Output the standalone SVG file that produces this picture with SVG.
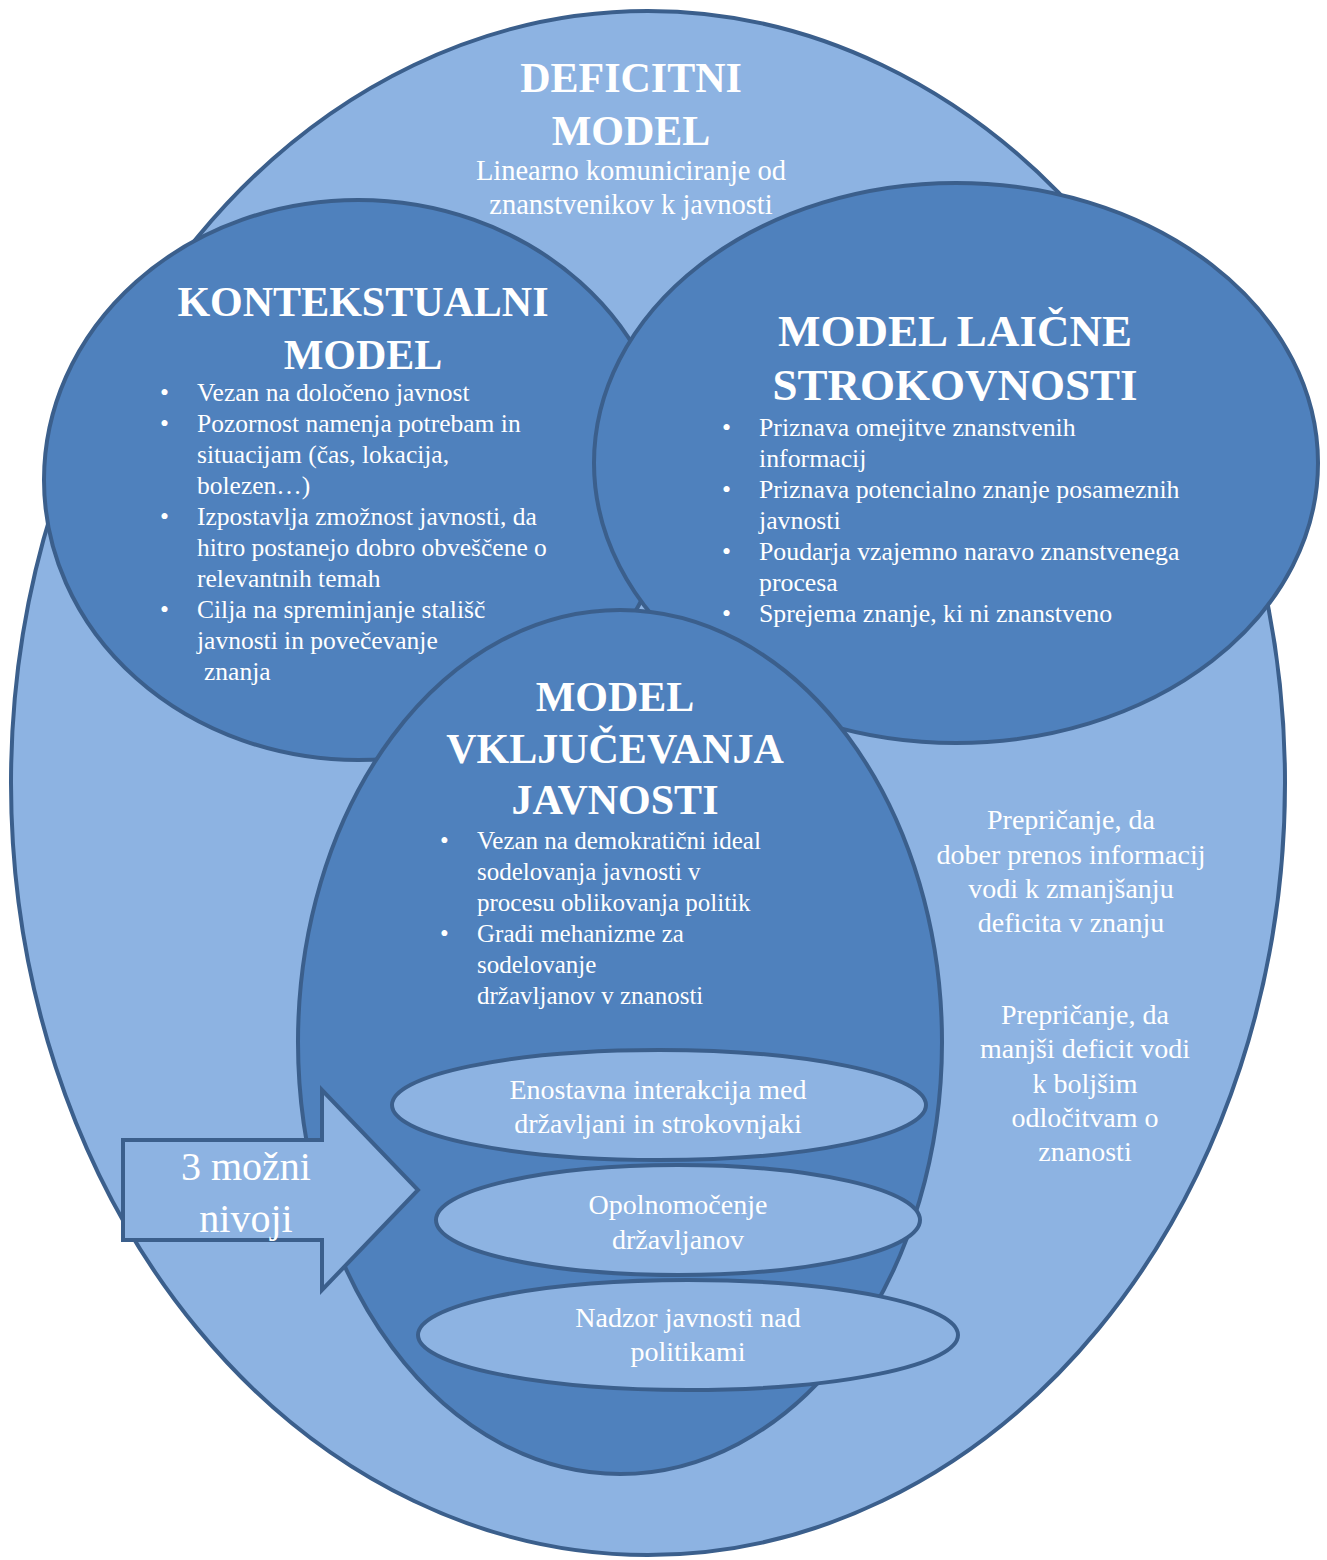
<svg xmlns="http://www.w3.org/2000/svg" width="1327" height="1560" viewBox="0 0 1327 1560">
<style>
.light{fill:#8DB3E2;stroke:#3B5F8C;stroke-width:4}
.mid{fill:#4F81BD;stroke:#3B5F8C;stroke-width:4}
text{font-family:"Liberation Serif","Times New Roman",serif;fill:#FFFFFF}
.t{font-size:42px;font-weight:bold;text-anchor:middle}
.b{font-size:25px}
.c{font-size:28px;text-anchor:middle}
.a{font-size:40px;text-anchor:middle}
</style>
<rect width="1327" height="1560" fill="#FFFFFF"/>
<g id="deficitni">
<ellipse class="light" cx="648" cy="783" rx="637" ry="772"/>
<text class="t" x="631" y="92">DEFICITNI</text>
<text class="t" x="631" y="145">MODEL</text>
<text class="c" x="631" y="180" style="font-size:28.5px">Linearno komuniciranje od</text>
<text class="c" x="631" y="214" style="font-size:28.5px">znanstvenikov k javnosti</text>
<text class="c" x="1071" y="829">Prepričanje, da</text>
<text class="c" x="1071" y="864">dober prenos informacij</text>
<text class="c" x="1071" y="898">vodi k zmanjšanju</text>
<text class="c" x="1071" y="932">deficita v znanju</text>
<text class="c" x="1085" y="1024">Prepričanje, da</text>
<text class="c" x="1085" y="1058">manjši deficit vodi</text>
<text class="c" x="1085" y="1093">k boljšim</text>
<text class="c" x="1085" y="1127">odločitvam o</text>
<text class="c" x="1085" y="1161">znanosti</text>
</g>
<g id="kontekstualni">
<ellipse class="mid" cx="358" cy="480" rx="314" ry="280"/>
<text class="t" x="363" y="316">KONTEKSTUALNI</text>
<text class="t" x="363" y="369">MODEL</text>
<g class="b" style="font-size:25.5px">
<text x="160" y="401">•</text><text x="197" y="401">Vezan na določeno javnost</text>
<text x="160" y="432">•</text><text x="197" y="432">Pozornost namenja potrebam in</text>
<text x="197" y="463">situacijam (čas, lokacija,</text>
<text x="197" y="494">bolezen…)</text>
<text x="160" y="525">•</text><text x="197" y="525">Izpostavlja zmožnost javnosti, da</text>
<text x="197" y="556">hitro postanejo dobro obveščene o</text>
<text x="197" y="587">relevantnih temah</text>
<text x="160" y="618">•</text><text x="197" y="618">Cilja na spreminjanje stališč</text>
<text x="197" y="649">javnosti in povečevanje</text>
<text x="204" y="680">znanja</text>
</g>
</g>
<g id="laicne">
<ellipse class="mid" cx="956" cy="463" rx="362" ry="280"/>
<text class="t" x="955" y="346" style="font-size:45px">MODEL LAIČNE</text>
<text class="t" x="955" y="400" style="font-size:45px">STROKOVNOSTI</text>
<g class="b" style="font-size:25.8px">
<text x="722" y="436">•</text><text x="759" y="436">Priznava omejitve znanstvenih</text>
<text x="759" y="467">informacij</text>
<text x="722" y="498">•</text><text x="759" y="498">Priznava potencialno znanje posameznih</text>
<text x="759" y="529">javnosti</text>
<text x="722" y="560">•</text><text x="759" y="560">Poudarja vzajemno naravo znanstvenega</text>
<text x="759" y="591">procesa</text>
<text x="722" y="622">•</text><text x="759" y="622">Sprejema znanje, ki ni znanstveno</text>
</g>
</g>
<g id="vkljucevanja">
<ellipse class="mid" cx="620" cy="1042" rx="322" ry="432"/>
<text class="t" x="615" y="711">MODEL</text>
<text class="t" x="615" y="763">VKLJUČEVANJA</text>
<text class="t" x="615" y="814">JAVNOSTI</text>
<g class="b">
<text x="440" y="849">•</text><text x="477" y="849">Vezan na demokratični ideal</text>
<text x="477" y="880">sodelovanja javnosti v</text>
<text x="477" y="911">procesu oblikovanja politik</text>
<text x="440" y="942">•</text><text x="477" y="942">Gradi mehanizme za</text>
<text x="477" y="973">sodelovanje</text>
<text x="477" y="1004">državljanov v znanosti</text>
</g>
</g>
<g id="nivo1">
<ellipse class="light" cx="659" cy="1105" rx="267" ry="55"/>
<text class="c" x="658" y="1099">Enostavna interakcija med</text>
<text class="c" x="658" y="1133">državljani in strokovnjaki</text>
</g>
<g id="nivo2">
<ellipse class="light" cx="678" cy="1220" rx="242" ry="55"/>
<text class="c" x="678" y="1214">Opolnomočenje</text>
<text class="c" x="678" y="1249">državljanov</text>
</g>
<g id="nivo3">
<ellipse class="light" cx="688" cy="1335" rx="270" ry="55"/>
<text class="c" x="688" y="1327">Nadzor javnosti nad</text>
<text class="c" x="688" y="1361">politikami</text>
</g>
<g id="connectors">
<g id="arrow">
<polygon class="light" points="123,1140 322,1140 322,1090 418,1190 322,1290 322,1240 123,1240"/>
<text class="a" x="246" y="1180">3 možni</text>
<text class="a" x="246" y="1232">nivoji</text>
</g>
</g>
</svg>
